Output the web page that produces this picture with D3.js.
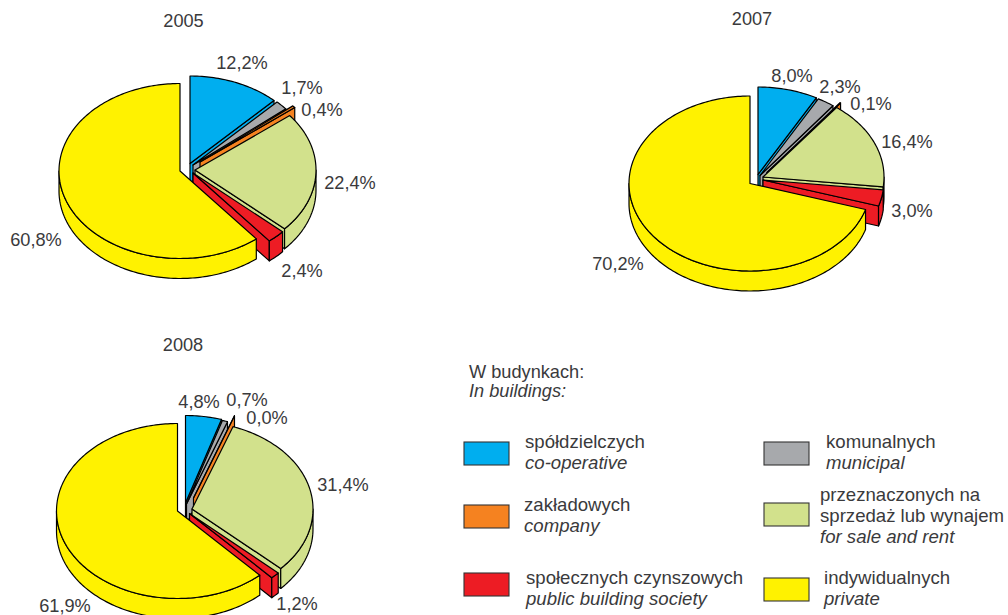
<!DOCTYPE html>
<html>
<head>
<meta charset="utf-8">
<script src="https://cdn.jsdelivr.net/npm/d3@7/dist/d3.min.js"></script>
<style>
html,body{margin:0;padding:0;background:#fff}
svg{display:block}
text{font-family:"Liberation Sans",Arial,sans-serif;fill:#3a3a3c}
</style>
</head>
<body>
<svg id="c" width="1008" height="615"></svg>
<script>
// Data (percent shares)
const categories = ["co-operative","municipal","company","forsale","society","private"];
const colors = ["#00aeef","#a7a9ac","#f58220","#d2e18c","#ed1c24","#fff200"];
const years = ["2005","2007","2008"];
const values2005 = [12.2,1.7,0.4,22.4,2.4,60.8];
const values2007 = [8.0,2.3,0.1,16.4,3.0,70.2];
const values2008 = [4.8,0.7,0.0,31.4,1.2,61.9];
const labels2005 = ["12,2%","1,7%","0,4%","22,4%","2,4%","60,8%"];
const labels2007 = ["8,0%","2,3%","0,1%","16,4%","3,0%","70,2%"];
const labels2008 = ["4,8%","0,7%","0,0%","31,4%","1,2%","61,9%"];

// Layout
const RX = 121, RY = 87.5, DEPTH = 20;
const charts = [
  {title:years[0], values:values2005, labels:labels2005, cx:180, cy:171, tx:183.5, ty:27,
   shift:[[10,-7.5],[13,-6],[20,-9],[15,-1],[13,2],[0,0]],
   lpos:[[242,69],[302,94],[322,116],[350,189],[302,277],[36,246]]},
  {title:years[1], values:values2007, labels:labels2007, cx:750, cy:183.5, tx:752, ty:25,
   shift:[[8,-9],[10,-8],[17,-11],[13,-6.5],[13,-3.5],[0,0]],
   lpos:[[792,82],[840,93],[871,110],[907,148],[912,217],[618,270]]},
  {title:years[2], values:values2008, labels:labels2008, cx:177.5, cy:511, tx:183, ty:351,
   shift:[[8,-8],[9,-7],[16,-13],[14.5,-2],[12,2.5],[0,0]],
   lpos:[[199,408],[247,406],[267,424],[343,491],[297,610],[65,611.5]]}
];

const svg = d3.select("#c");
const FS = 18.2, FS_LEGEND = 18.6;
const line = d3.line();
const pie = d3.pie().sort(null).value(d=>d);

function pt(cx,cy,a,dz){ return [cx+RX*Math.sin(a), cy-RY*Math.cos(a)+dz]; }
function arcPts(cx,cy,a0,a1,dz){
  const n = Math.max(2,Math.ceil(Math.abs(a1-a0)/0.02));
  return d3.range(n+1).map(i=>pt(cx,cy,a0+(a1-a0)*i/n,dz));
}

charts.forEach(ch=>{
  const g = svg.append("g");
  pie(ch.values).forEach((s,i)=>{
    const cx = ch.cx+ch.shift[i][0], cy = ch.cy+ch.shift[i][1];
    const a0 = s.startAngle, a1 = s.endAngle;
    const st = {fill:colors[i],stroke:"#000","stroke-width":1.2,"stroke-linejoin":"round"};
    const add = pts=>{
      const p = g.append("path").attr("d",line(pts)+"Z");
      Object.entries(st).forEach(([k,v])=>p.attr(k,v));
    };
    // cut face at the end angle
    if(Math.sin(a1)>0.001){
      const o = pt(cx,cy,a1,0), c=[cx,cy];
      add([c,o,[o[0],o[1]+DEPTH],[c[0],c[1]+DEPTH]]);
    }
    // outer wall
    const w0 = Math.max(a0,Math.PI/2), w1 = Math.min(a1,Math.PI*1.5);
    if(w1>w0){
      add(arcPts(cx,cy,w0,w1,0).concat(arcPts(cx,cy,w1,w0,DEPTH)));
    }
    // top
    add([[cx,cy]].concat(arcPts(cx,cy,a0,a1,0)));
  });
  svg.append("text").text(ch.title).attr("x",ch.tx).attr("y",ch.ty)
    .attr("text-anchor","middle").attr("font-size",FS);
  ch.labels.forEach((t,i)=>{
    svg.append("text").text(t).attr("x",ch.lpos[i][0]).attr("y",ch.lpos[i][1])
      .attr("text-anchor","middle").attr("font-size",FS);
  });
});

// Legend
const legendHead = ["W budynkach:","In buildings:"];
const legendLabels = [
  ["spółdzielczych"],["co-operative"],
  ["komunalnych"],["municipal"],
  ["zakładowych"],["company"],
  ["przeznaczonych na","sprzedaż lub wynajem"],["for sale and rent"],
  ["społecznych czynszowych"],["public building society"],
  ["indywidualnych"],["private"]
];
const legendBoxes = [[464,442],[764,442],[464,505],[764,503],[464,573],[764,578]];
const legendText = [[525,448],[826,448],[524,511],[820,501],[526,584],[824,584]];
svg.append("text").text(legendHead[0]).attr("x",469).attr("y",378).attr("font-size",FS);
svg.append("text").text(legendHead[1]).attr("x",469).attr("y",397).attr("font-size",FS).attr("font-style","italic");
colors.forEach((c,i)=>{
  svg.append("rect").attr("x",legendBoxes[i][0]).attr("y",legendBoxes[i][1])
    .attr("width",45).attr("height",23).attr("fill",c).attr("stroke","#333").attr("stroke-width",1.1);
  let y = legendText[i][1];
  legendLabels[i*2].forEach(t=>{
    svg.append("text").text(t).attr("x",legendText[i][0]).attr("y",y).attr("font-size",FS_LEGEND);
    y += 21;
  });
  legendLabels[i*2+1].forEach(t=>{
    svg.append("text").text(t).attr("x",legendText[i][0]).attr("y",y).attr("font-size",FS_LEGEND).attr("font-style","italic");
  });
});
</script>
</body>
</html>
